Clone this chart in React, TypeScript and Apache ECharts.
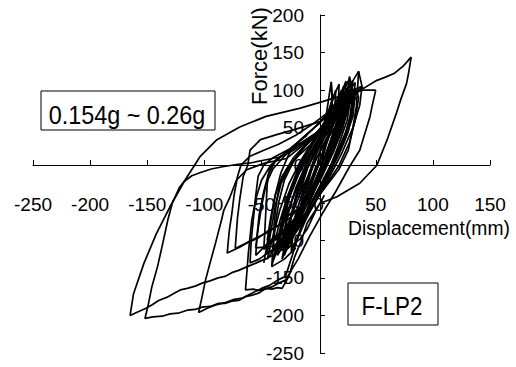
import React, { useEffect, useRef } from "react";
import * as echarts from "echarts";

// Axis settings
const xTicks = { min: -250, max: 150, interval: 50 };
const yTicks = { min: -250, max: 200, interval: 50 };
const xTitle = "Displacement(mm)";
const yTitle = "Force(kN)";
const rangeLabel = "0.154g ~ 0.26g";
const specimenLabel = "F-LP2";

// Hysteresis paths, [displacement (mm), force (kN)]
const loopA: [number, number][] = [
  [5, -40], [-3, -62], [-10, -85], [-16, -98], [-23, -106], [-28, -112], [-33, -113], [-38, -118],
  [-45, -124], [-50, -127], [-56, -131], [-64, -136], [-70, -140], [-76, -143], [-82, -148],
  [-88, -150], [-95, -154], [-102, -157], [-108, -161], [-115, -164], [-121, -166], [-126, -170],
  [-133, -176], [-140, -180], [-146, -186], [-152, -191], [-158, -195], [-165, -200],
  [-162, -171], [-153, -131], [-142, -91], [-130, -55], [-117, -20], [-104, 11], [-89, 34],
  [-69, 51], [-46, 65], [-16, 76], [4, 85], [28, 96], [40, 103], [51, 113], [58, 117], [66, 122],
  [74, 132], [81, 144],
  [79, 125], [77, 109], [72, 88], [68, 69], [60, 34], [51, 0], [36, -24], [16, -42], [1, -51],
  [-10, -77], [-15, -100], [-21, -122], [-26, -148], [-32, -164], [-36, -163], [-41, -165],
  [-46, -164], [-52, -167], [-57, -165], [-64, -166],
  [-61.5, -117], [-58.5, -73], [-55, -45], [-50, -20], [-42, 0], [-30, 15], [-15, 35], [0, 55],
  [15, 80], [25, 100], [35, 125],
];

const loopB: [number, number][] = [
  [50, 100], [47, 80], [45, 65], [40, 40], [36, 20], [27, -2], [15, -35], [3, -65], [-8, -95],
  [-18, -125], [-24, -140], [-29, -153], [-35, -157], [-41, -162], [-47, -165], [-52, -170],
  [-58, -173], [-64, -175], [-70, -180], [-76, -181], [-82, -184], [-88, -184], [-95, -188],
  [-102, -189], [-108, -192], [-115, -193], [-123, -197], [-130, -198], [-137, -201],
  [-145, -202], [-152, -204],
  [-149, -185], [-146, -162], [-141, -135], [-137, -108], [-132, -73], [-128, -50], [-122, -30],
  [-118, -22], [-111, -14], [-104, -10], [-94, -5], [-84, -2], [-72, 1], [-60, 3], [-47, 7],
  [-34, 11], [-22, 20], [-8, 35], [5, 50], [20, 70], [30, 90], [38, 105], [35, 125],
];

const loopC: [number, number][] = [
  [27, 118], [25, 90], [20, 55], [12, 20], [2, -15], [-8, -50], [-17, -90], [-23, -120],
  [-29, -148], [-36, -153], [-43, -160], [-50, -164], [-58, -170], [-67, -177], [-75, -179],
  [-82, -183], [-90, -186], [-97, -190], [-105, -196],
  [-102, -175], [-99, -153], [-95, -130], [-91, -108], [-85, -73], [-83, -60], [-77.5, -42],
  [-72, -20], [-63, -6], [-48, 2.5], [-28, 9], [-15, 25], [0, 45], [12, 70], [22, 85], [30, 95],
  [38, 100], [50, 100],
];

const loopE1: [number, number][] = [
  [11, 111], [12, 90], [8, 60], [0, 25], [-8, -10], [-16, -55], [-25, -70], [-35, -80],
  [-45, -90], [-55, -97], [-65, -105], [-73, -111],
  [-72, -90], [-71, -70], [-69, -45], [-66, -15], [-62, 0], [-60, 20], [-51, 34], [-36, 41],
  [-22, 47], [1, 58], [13, 68], [24.6, 78], [32, 88], [27, 118],
];

const loopE2: [number, number][] = [
  [22, 105], [20, 80], [15, 50], [5, 10], [-5, -30], [-15, -55], [-25, -65], [-35, -80],
  [-45, -88], [-53, -97], [-62, -103], [-70, -110], [-80, -117],
  [-79, -100], [-78, -85], [-76, -65], [-74, -40], [-71, -15], [-68, 0], [-60, 12], [-48, 20],
  [-35, 28], [-20, 40], [-5, 55], [8, 70], [18, 88], [22, 105],
];

const peak35: [number, number][] = [
  [35, 125], [34, 100], [33, 78], [30, 50], [26, 20], [18, -5], [8, -25], [-2, -45], [-12, -70],
  [-22, -95], [-30, -110],
];

const midM1: [number, number][] = [
  [-20, -70], [-30, -85], [-42, -100], [-55, -120], [-54, -95], [-52, -65], [-48, -35], [-44, -12],
  [-38, 5], [-28, 18], [-15, 30], [0, 45],
];
const midM2: [number, number][] = [
  [-15, -60], [-30, -88], [-40, -100], [-48, -112], [-47, -85], [-46, -55], [-45, -25], [-43, -5],
  [-37, 8], [-25, 20], [-10, 35], [5, 50],
];
const midM3: [number, number][] = [
  [-25, -95], [-40, -112], [-52, -125], [-60, -130], [-59, -100], [-57, -70], [-55, -40], [-53, -15],
  [-48, 0], [-40, 10], [-25, 22], [-10, 40],
];
const midM4: [number, number][] = [
  [-20, -110], [-30, -125], [-41, -135], [-40, -110], [-39, -80], [-37, -50], [-34, -25], [-28, -5],
  [-18, 12], [-5, 30],
];

const core1: [number, number][] = [
  [-35, -110], [-31, -75], [-25, -40], [-15, 0], [-3, 35], [10, 70], [20, 95], [27, 115],
  [24, 85], [18, 50], [8, 10], [-5, -35], [-18, -75], [-30, -120],
  [-27, -90], [-22, -55], [-13, -15], [-2, 25], [6, 60], [11, 111],
  [12, 80], [8, 40], [0, 0], [-10, -40], [-20, -70], [-27, -95],
  [-24, -65], [-18, -30], [-8, 10], [3, 45], [14, 75], [22, 100],
  [20, 70], [14, 35], [5, 0], [-5, -35], [-14, -65], [-22, -90],
  [-19, -60], [-12, -25], [-2, 15], [8, 45], [18, 70], [28, 90],
  [25, 60], [17, 25], [8, -10], [-3, -40], [-13, -70], [-20, -85],
  [-18, -55], [-10, -20], [0, 15], [10, 40], [20, 65], [25, 80],
  [21, 50], [13, 18], [3, -15], [-8, -45], [-17, -75], [-25, -105],
  [-21, -70], [-14, -35], [-5, 0], [5, 30], [15, 60], [20, 75],
  [16, 45], [8, 12], [-2, -20], [-12, -50], [-20, -75], [-28, -100],
];

const core2: [number, number][] = [
  [-41, -135], [-36, -100], [-30, -60], [-22, -25], [-10, 10], [2, 40], [15, 70], [25, 95], [32, 110],
  [30, 80], [24, 45], [14, 10], [2, -25], [-10, -60], [-22, -90], [-33, -112],
  [-30, -85], [-24, -50], [-15, -15], [-5, 20], [5, 45], [15, 75], [18, 90],
  [16, 60], [10, 25], [0, -10], [-10, -45], [-20, -75], [-38, -100],
  [-34, -75], [-27, -40], [-18, -5], [-8, 25], [4, 55], [14, 80], [20, 100],
  [18, 70], [12, 40], [4, 5], [-6, -30], [-16, -60], [-26, -85], [-45, -125],
  [-40, -95], [-34, -60], [-26, -25], [-16, 5], [-4, 35], [8, 65], [15, 100],
  [14, 70], [9, 40], [1, 5], [-8, -30], [-18, -65], [-28, -105],
  [-25, -75], [-19, -40], [-10, -5], [0, 25], [10, 50], [20, 75], [30, 95],
  [27, 60], [20, 25], [10, -10], [-2, -45], [-12, -75], [-22, -110],
];

const core3: [number, number][] = [
  [-48, -130], [-45, -105], [-42, -75], [-38, -40], [-33, -10], [-26, 15], [-15, 35], [0, 55],
  [15, 80], [30, 100], [38, 105],
  [36, 80], [30, 50], [20, 15], [8, -20], [-5, -55], [-18, -85], [-30, -105], [-45, -118],
  [-42, -90], [-38, -55], [-33, -25], [-25, 0], [-15, 20], [-2, 40], [12, 65], [25, 88], [32, 100],
  [29, 70], [22, 35], [12, 0], [0, -35], [-12, -65], [-25, -90], [-40, -108], [-55, -110],
  [-53, -85], [-50, -55], [-46, -25], [-40, -5], [-30, 12], [-18, 30], [-5, 48], [10, 72], [22, 92],
  [20, 60], [12, 25], [2, -10], [-10, -45], [-22, -75], [-35, -95],
];

const core4: [number, number][] = [
  [-38, -120], [-33, -85], [-28, -50], [-20, -15], [-10, 15], [0, 40], [12, 70], [24, 100], [30, 112],
  [27, 85], [20, 50], [10, 15], [-2, -20], [-14, -55], [-26, -90], [-36, -115],
  [-32, -80], [-26, -45], [-17, -10], [-6, 20], [6, 50], [18, 80], [26, 105],
  [24, 75], [16, 40], [6, 5], [-6, -30], [-18, -65], [-30, -95],
  [-27, -65], [-20, -30], [-10, 5], [2, 35], [14, 65], [24, 90],
  [21, 55], [13, 20], [2, -15], [-10, -50], [-22, -85], [-32, -108],
];

const core5: [number, number][] = [
  [-5, 10], [2, 40], [8, 70], [14, 95], [18, 108], [17, 80], [12, 50], [5, 20], [-2, -5],
  [3, 30], [10, 60], [18, 90], [24, 112], [23, 85], [18, 55], [10, 25], [2, 0],
  [8, 35], [15, 65], [22, 95], [28, 108], [26, 75], [20, 45], [12, 15], [4, -10],
  [10, 30], [18, 60], [26, 88], [32, 95], [30, 65], [22, 30], [14, 5],
];

const core6: [number, number][] = [
  [0, -10], [-6, -40], [-12, -70], [-18, -95], [-24, -115], [-22, -85], [-16, -55], [-8, -25], [-2, 0],
  [-8, -35], [-16, -65], [-24, -95], [-32, -125], [-28, -90], [-22, -60], [-14, -30], [-6, -5],
  [-12, -40], [-20, -70], [-28, -100], [-36, -120], [-33, -90], [-27, -60], [-19, -30], [-10, -5],
  [-18, -45], [-26, -75], [-34, -105], [-40, -128],
];

const core7: [number, number][] = [
  [-45, -100], [-42, -70], [-38, -40], [-32, -15], [-22, 10], [-10, 30], [5, 55], [20, 80], [33, 100],
  [35, 90], [32, 60], [27, 30], [18, 0], [5, -30], [-8, -60], [-20, -85], [-32, -100], [-40, -115],
  [-38, -80], [-35, -50], [-30, -20], [-22, 5], [-12, 25], [2, 50], [16, 75], [28, 95],
  [30, 75], [26, 45], [18, 15], [8, -15], [-4, -45], [-16, -75], [-28, -95],
];

const paths = [
  loopA, loopB, loopC, loopE1, loopE2, peak35, midM1, midM2, midM3, midM4,
  core1, core2, core3, core4, core5, core6, core7,
];

const FONT = "'Liberation Sans', Arial, sans-serif";

export default function App() {
  const ref = useRef<HTMLDivElement>(null);
  useEffect(() => {
    if (!ref.current) return;
    const chart = echarts.init(ref.current, undefined, { renderer: "svg" });
    chart.setOption({
      animation: false,
      backgroundColor: "#ffffff",
      grid: { left: 33, right: 26, top: 15, bottom: 14, containLabel: false, outerBoundsMode: "none" },
      xAxis: {
        type: "value",
        position: "bottom",
        offset: -188,
        min: xTicks.min,
        max: xTicks.max,
        interval: xTicks.interval,
        axisLine: { onZero: false, lineStyle: { color: "#000", width: 1 } },
        axisTick: { inside: true, length: 5, lineStyle: { color: "#000" } },
        axisLabel: { margin: 30, color: "#000", fontSize: 19, fontFamily: FONT },
        splitLine: { show: false },
      },
      yAxis: {
        type: "value",
        position: "left",
        offset: -287,
        min: yTicks.min,
        max: yTicks.max,
        interval: yTicks.interval,
        axisLine: { onZero: false, lineStyle: { color: "#000", width: 1 } },
        axisTick: { inside: true, length: 5, lineStyle: { color: "#000" } },
        axisLabel: { margin: 16, color: "#000", fontSize: 19, fontFamily: FONT },
        splitLine: { show: false },
      },
      series: paths.map((p, i) => ({
        type: "line",
        name: "path" + i,
        data: p,
        showSymbol: false,
        symbol: "none",
        smooth: false,
        lineStyle: { color: "#000", width: 1.7 },
        silent: true,
      })),
      graphic: [
        {
          type: "text",
          x: 259,
          y: 56,
          rotation: Math.PI / 2,
          style: { text: yTitle, fontSize: 22, fontFamily: FONT, fill: "#000", align: "center", verticalAlign: "middle" },
        },
        {
          type: "text",
          x: 348,
          y: 228,
          scaleX: 0.92,
          style: { text: xTitle, fontSize: 21, fontFamily: FONT, fill: "#000", align: "left", verticalAlign: "middle" },
        },
        {
          type: "rect",
          shape: { x: 41, y: 91, width: 174, height: 39 },
          style: { fill: "#fff", stroke: "#000", lineWidth: 1 },
          z: 10,
        },
        {
          type: "text",
          x: 127,
          y: 115,
          z: 11,
          scaleX: 0.9,
          style: { text: rangeLabel, fontSize: 26, fontFamily: FONT, fill: "#000", align: "center", verticalAlign: "middle" },
        },
        {
          type: "rect",
          shape: { x: 348, y: 283, width: 90, height: 42 },
          style: { fill: "#fff", stroke: "#000", lineWidth: 1 },
          z: 10,
        },
        {
          type: "text",
          x: 392,
          y: 306,
          z: 11,
          scaleX: 0.86,
          style: { text: specimenLabel, fontSize: 26, fontFamily: FONT, fill: "#000", align: "center", verticalAlign: "middle" },
        },
      ],
    });
    return () => chart.dispose();
  }, []);
  return <div ref={ref} style={{ position: "fixed", left: 0, top: 0, width: 516, height: 367 }} />;
}
